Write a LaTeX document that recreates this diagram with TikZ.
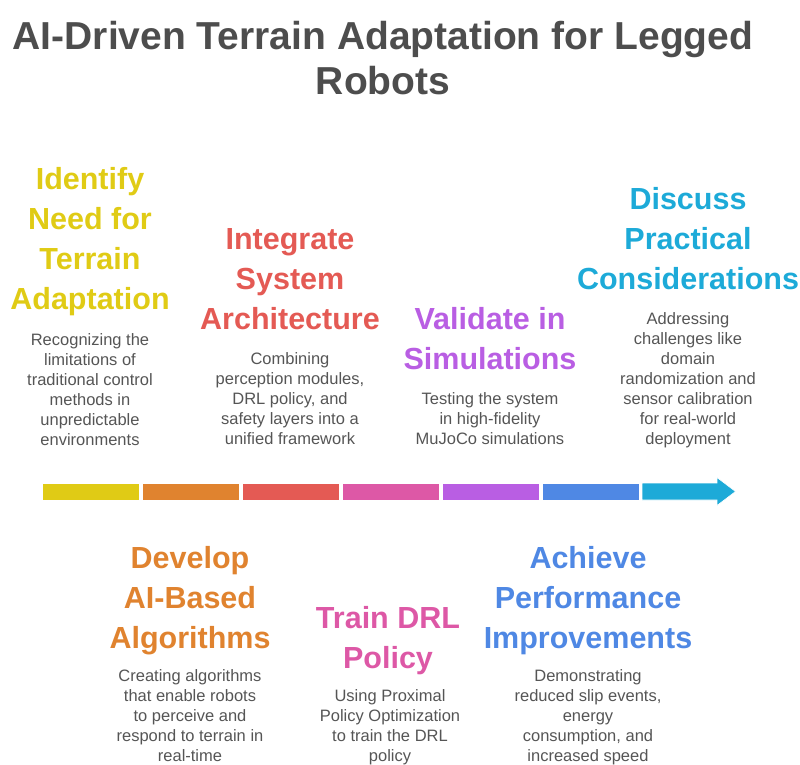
\documentclass[tikz,border=0pt]{standalone}
\usepackage{fontspec}
\setmainfont{Liberation Sans}
\definecolor{cA}{HTML}{E0CB15}
\definecolor{cB}{HTML}{E0832F}
\definecolor{cC}{HTML}{E45A54}
\definecolor{cD}{HTML}{DD58A6}
\definecolor{cE}{HTML}{B95EE3}
\definecolor{cF}{HTML}{4F88E4}
\definecolor{cG}{HTML}{1DAAD8}
\definecolor{titlegray}{HTML}{4D4D4D}
\definecolor{descgray}{HTML}{555555}
\begin{document}
\begin{tikzpicture}[x=1pt,y=-1pt,
  titlestyle/.style={font=\fontsize{39}{45}\selectfont\bfseries, text=titlegray, align=center, anchor=north, inner sep=0pt},
  head/.style={font=\fontsize{30.5}{40}\selectfont\bfseries, align=center, anchor=north, inner sep=0pt},
  desc/.style={font=\fontsize{16.5}{20}\selectfont, text=descgray, align=center, anchor=north, inner sep=0pt},
  seg/.style={draw=white, line width=0.6pt}]
\useasboundingbox (0,0) rectangle (800,765);
% title
\node[titlestyle] (title) at (383,17.5) {\strut AI-Driven Terrain Adaptation for Legged\\Robots};
% timeline bar
\fill[cA, seg] (42,483) rectangle (139,500);
\fill[cB, seg] (142,483) rectangle (239,500);
\fill[cC, seg] (242,483) rectangle (339,500);
\fill[cD, seg] (342,483) rectangle (439,500);
\fill[cE, seg] (442,483) rectangle (539,500);
\fill[cF, seg] (542,483) rectangle (639,500);
\fill[cG, seg] (642,483) -- (717,483) -- (717,477.5) -- (735.5,491.5) -- (717,505.5) -- (717,500) -- (642,500) -- cycle;
% column 1
\node[head, text=cA] (h1) at (90,161) {\strut Identify\\Need for\\Terrain\\Adaptation};
\node[desc] (d1) at (90,331) {\strut Recognizing the\\limitations of\\traditional control\\methods in\\unpredictable\\environments};
% column 2
\node[head, text=cB] (h2) at (190,540) {\strut Develop\\AI-Based\\Algorithms};
\node[desc] (d2) at (190,667) {\strut Creating algorithms\\that enable robots\\to perceive and\\respond to terrain in\\real-time};
% column 3
\node[head, text=cC] (h3) at (290,221) {\strut Integrate\\System\\Architecture};
\node[desc] (d3) at (290,350) {\strut Combining\\perception modules,\\DRL policy, and\\safety layers into a\\unified framework};
% column 4
\node[head, text=cD] (h4) at (388,600) {\strut Train DRL\\Policy};
\node[desc] (d4) at (390,687) {\strut Using Proximal\\Policy Optimization\\to train the DRL\\policy};
% column 5
\node[head, text=cE] (h5) at (490,301) {\strut Validate in\\Simulations};
\node[desc] (d5) at (490,390) {\strut Testing the system\\in high-fidelity\\MuJoCo simulations};
% column 6
\node[head, text=cF] (h6) at (588,540) {\strut Achieve\\Performance\\Improvements};
\node[desc] (d6) at (588,667) {\strut Demonstrating\\reduced slip events,\\energy\\consumption, and\\increased speed};
% column 7
\node[head, text=cG] (h7) at (688,181) {\strut Discuss\\Practical\\Considerations};
\node[desc] (d7) at (688,310) {\strut Addressing\\challenges like\\domain\\randomization and\\sensor calibration\\for real-world\\deployment};
\end{tikzpicture}
\end{document}
